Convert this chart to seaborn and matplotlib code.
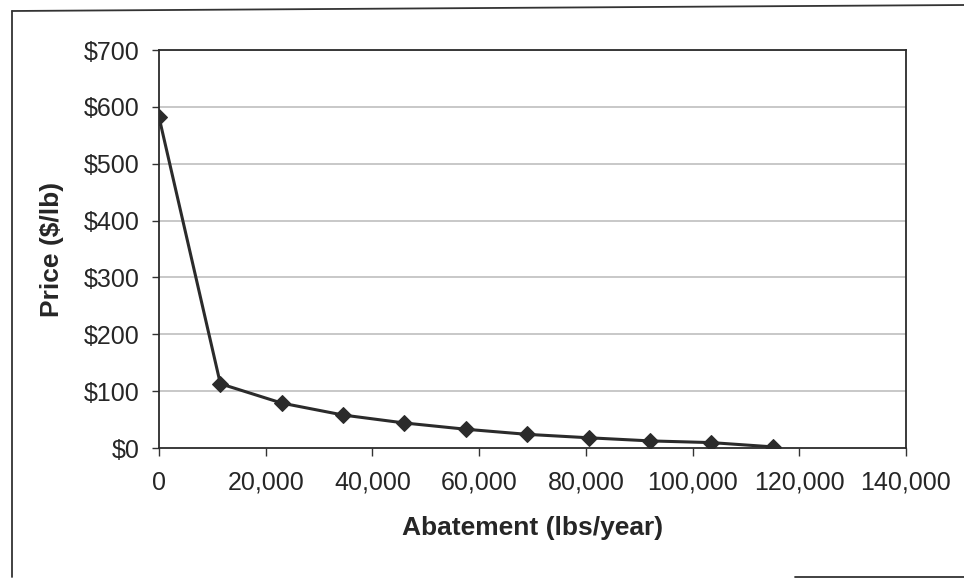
import matplotlib
matplotlib.use("Agg")
import matplotlib.pyplot as plt
import seaborn as sns
import pandas as pd
from matplotlib.lines import Line2D
from matplotlib.ticker import FuncFormatter

abatement = [0, 11500, 23000, 34500, 46000, 57500, 69000, 80500, 92000, 103500, 115000]
price = [582, 113, 79, 58, 44, 33, 24, 18, 12.5, 9.5, 2]
x_ticks = [0, 20000, 40000, 60000, 80000, 100000, 120000, 140000]
y_ticks = [0, 100, 200, 300, 400, 500, 600, 700]

sns.set_theme(style="white")
plt.rcParams['font.family'] = ['Liberation Sans', 'DejaVu Sans']

df = pd.DataFrame({"Abatement": abatement, "Price": price})

fig = plt.figure(figsize=(9.64, 5.79), dpi=100)
ax = fig.add_axes([159/964, 1-448/579, (906-159)/964, (448-50)/579])

for yt in y_ticks[1:]:
    ax.axhline(yt, color="#c4c4c4", lw=1.3, zorder=0)

sns.lineplot(data=df, x="Abatement", y="Price", ax=ax, color="#2b2b2b",
             lw=2.2, marker="D", markersize=8, markeredgecolor="#2b2b2b",
             markerfacecolor="#2b2b2b")

ax.set_xlim(0, 140000)
ax.set_ylim(0, 700)
ax.set_xticks(x_ticks)
ax.set_yticks(y_ticks)
ax.xaxis.set_major_formatter(FuncFormatter(lambda v, p: f"{int(v):,}"))
ax.yaxis.set_major_formatter(FuncFormatter(lambda v, p: f"${int(v)}"))
ax.tick_params(axis="both", which="major", direction="out", width=1,
               color="#333333", labelsize=18, labelcolor="#262626",
               bottom=True, left=True)
ax.tick_params(axis="y", length=5, pad=9)
ax.tick_params(axis="x", length=6, pad=10.5)
for s in ax.spines.values():
    s.set_color("#2b2b2b")
    s.set_linewidth(1.3)
ax.set_xlabel("Abatement (lbs/year)", fontsize=19, fontweight="bold",
              color="#262626", labelpad=15)
ax.set_ylabel("Price ($/lb)", fontsize=19, fontweight="bold",
              color="#262626", labelpad=14)

# outer frame of the scanned chart
fig.add_artist(Line2D([12/964, 12/964], [1-577/579, 1-11/579], transform=fig.transFigure,
                      color="#333333", lw=1.3))
fig.add_artist(Line2D([12/964, 1.0], [1-11/579, 1-5/579], transform=fig.transFigure,
                      color="#333333", lw=1.3))
fig.add_artist(Line2D([795/964, 1.0], [1-577/579, 1-577/579], transform=fig.transFigure,
                      color="#333333", lw=1.3))

fig.savefig("out.png", dpi=100, facecolor="white")
